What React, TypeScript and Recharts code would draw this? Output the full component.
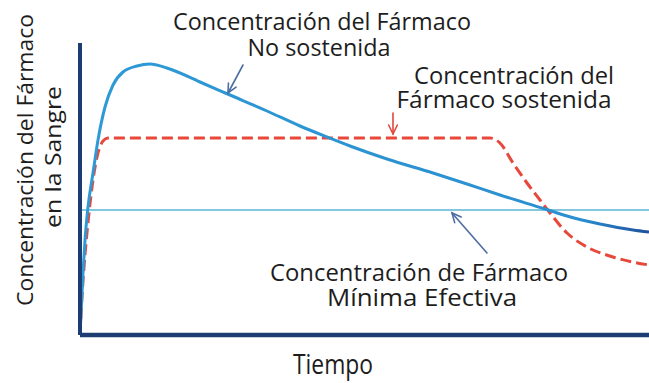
import { LineChart, Line, XAxis, YAxis, ReferenceLine } from "recharts";

// time (t) vs concentration (c)
const NO_SOSTENIDA = [
  { t: 0, c: 0 }, { t: 3, c: 62 }, { t: 5, c: 95 }, { t: 8, c: 128 }, { t: 13, c: 162 },
  { t: 18, c: 195 }, { t: 25, c: 228 }, { t: 33, c: 250 }, { t: 43, c: 263 }, { t: 57, c: 269 },
  { t: 70, c: 271 }, { t: 87, c: 267 }, { t: 120, c: 253 }, { t: 150, c: 240 }, { t: 187, c: 224 },
  { t: 220, c: 209 }, { t: 247, c: 198 }, { t: 270, c: 189 }, { t: 307, c: 176 }, { t: 353, c: 162 },
  { t: 387, c: 151 }, { t: 420, c: 140 }, { t: 465, c: 126 }, { t: 487, c: 119 }, { t: 520, c: 111 },
  { t: 553, c: 105 }, { t: 569, c: 103 },
];

const SOSTENIDA = [
  { t: 0, c: 0 }, { t: 2, c: 38 }, { t: 5, c: 80 }, { t: 9, c: 122 }, { t: 13, c: 155 },
  { t: 18, c: 182 }, { t: 23, c: 194 }, { t: 28, c: 197 }, { t: 410, c: 197 }, { t: 420, c: 192 },
  { t: 433, c: 172 }, { t: 447, c: 152 }, { t: 460, c: 135 }, { t: 470, c: 122 }, { t: 487, c: 102 },
  { t: 507, c: 88 }, { t: 533, c: 78 }, { t: 569, c: 70 },
];

const MINIMA_EFECTIVA = 125;

// annotation arrows: from -> to (tip), in data units
const ARROWS = [
  { from: { t: 163, c: 270 }, to: { t: 148, c: 242 }, color: "#4d6ea3" },
  { from: { t: 313, c: 222 }, to: { t: 313, c: 201 }, color: "#e0483c" },
  { from: { t: 407, c: 82 }, to: { t: 372, c: 122 }, color: "#4d6ea3" },
];

const W = 649;
const H = 383;
const FONT = "'Open Sans', 'Noto Sans', sans-serif";
const AXIS = "#1c3d73";

const Arrow = (color: string) => (p: any) => {
  const { x1, y1, x2, y2 } = p;
  const a = Math.atan2(y2 - y1, x2 - x1);
  const len = 10;
  const spread = 0.45;
  const ax = x2 - len * Math.cos(a - spread);
  const ay = y2 - len * Math.sin(a - spread);
  const bx = x2 - len * Math.cos(a + spread);
  const by = y2 - len * Math.sin(a + spread);
  return (
    <g stroke={color} strokeWidth={1.6} fill="none" strokeLinecap="round">
      <line x1={x1} y1={y1} x2={x2} y2={y2} />
      <polyline points={`${ax},${ay} ${x2},${y2} ${bx},${by}`} />
    </g>
  );
};

const T = ({ x, y, w, size = 23, children }: any) => (
  <text
    x={x}
    y={y}
    textAnchor="middle"
    fontSize={size}
    fill="#1d1d1d"
    textLength={w}
    lengthAdjust="spacingAndGlyphs"
  >
    {children}
  </text>
);

export default function App() {
  return (
    <div style={{ position: "absolute", left: 0, top: 0, width: W, height: H, background: "#fff", fontFamily: FONT }}>
      <LineChart width={W} height={H} margin={{ top: 43, right: 0, left: 80, bottom: 48 }}>
        <defs>
          <linearGradient id="blueStroke" x1="0" y1="0" x2="1" y2="0">
            <stop offset="0%" stopColor="#2d9ad6" />
            <stop offset="88%" stopColor="#2b8fd0" />
            <stop offset="100%" stopColor="#1f4f9c" />
          </linearGradient>
        </defs>
        <XAxis type="number" dataKey="t" domain={[0, 569]} allowDataOverflow hide />
        <YAxis type="number" dataKey="c" domain={[0, 292]} allowDataOverflow hide />
        <ReferenceLine y={MINIMA_EFECTIVA} stroke="#5ab6d4" strokeWidth={1.6} />
        <Line
          data={SOSTENIDA}
          dataKey="c"
          type="monotone"
          stroke="#e8473b"
          strokeWidth={3}
          strokeDasharray="11 5"
          dot={false}
          isAnimationActive={false}
        />
        <Line
          data={NO_SOSTENIDA}
          dataKey="c"
          type="monotone"
          stroke="url(#blueStroke)"
          strokeWidth={3}
          dot={false}
          isAnimationActive={false}
        />
        <ReferenceLine x={0} stroke={AXIS} strokeWidth={4} ifOverflow="visible" />
        <ReferenceLine y={0} stroke={AXIS} strokeWidth={4.5} ifOverflow="visible" />
        {ARROWS.map((a, i) => (
          <ReferenceLine
            key={i}
            segment={[{ x: a.from.t, y: a.from.c }, { x: a.to.t, y: a.to.c }]}
            ifOverflow="visible"
            shape={Arrow(a.color)}
          />
        ))}
      </LineChart>
      <svg
        width={W}
        height={H}
        style={{ position: "absolute", left: 0, top: 0, pointerEvents: "none", fontFamily: FONT }}
      >
        <T x={322} y={30} w={298}>Concentración del Fármaco</T>
        <T x={319} y={56} w={143}>No sostenida</T>
        <T x={514} y={84} w={200}>Concentración del</T>
        <T x={504} y={108} w={215}>Fármaco  sostenida</T>
        <T x={419} y={281} w={298}>Concentración de Fármaco</T>
        <T x={422} y={306} w={190}>Mínima Efectiva</T>
        <T x={333} y={374} w={80} size={28}>Tiempo</T>
        <g transform="translate(33,160) rotate(-90)">
          <T x={0} y={0} w={292} size={22}>Concentración del Fármaco</T>
        </g>
        <g transform="translate(61,157) rotate(-90)">
          <T x={0} y={0} w={142} size={22}>en la Sangre</T>
        </g>
      </svg>
    </div>
  );
}
